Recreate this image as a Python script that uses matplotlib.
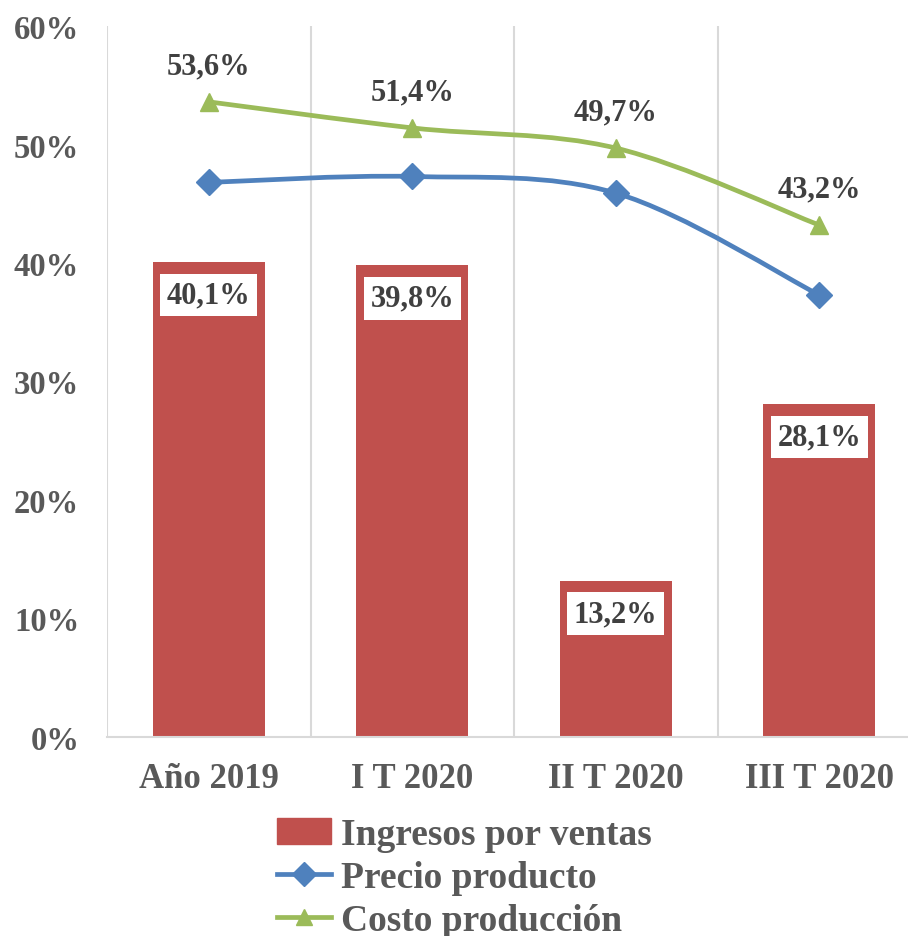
import matplotlib.pyplot as plt
from matplotlib.path import Path
from matplotlib.patches import PathPatch
from matplotlib.lines import Line2D
from matplotlib.ticker import FuncFormatter

categories = ["Año 2019", "I T 2020", "II T 2020", "III T 2020"]
ingresos = [40.1, 39.8, 13.2, 28.1]
precio = [46.8, 47.3, 45.9, 37.3]
costo = [53.6, 51.4, 49.7, 43.2]

RED = "#C0504D"
BLUE = "#4F81BD"
GREEN = "#9BBB59"
TICK_COLOR = "#595959"
LABEL_COLOR = "#404040"

plt.rcParams['font.family'] = ['Liberation Serif', 'DejaVu Serif']
plt.rcParams['font.weight'] = 'bold'


def smooth_path(xs, ys):
    # Excel-like smoothed line: cubic Bezier through the points
    pts = list(zip(xs, ys))
    verts = [pts[0]]
    codes = [Path.MOVETO]
    n = len(pts)
    for i in range(n - 1):
        p0 = pts[i - 1] if i > 0 else pts[i]
        p1 = pts[i]
        p2 = pts[i + 1]
        p3 = pts[i + 2] if i + 2 < n else pts[i + 1]
        c1 = (p1[0] + (p2[0] - p0[0]) / 6, p1[1] + (p2[1] - p0[1]) / 6)
        c2 = (p2[0] - (p3[0] - p1[0]) / 6, p2[1] - (p3[1] - p1[1]) / 6)
        verts += [c1, c2, p2]
        codes += [Path.CURVE4] * 3
    return Path(verts, codes)


fig = plt.figure(figsize=(9.08, 9.37), dpi=100)
ax = fig.add_axes([107 / 908, 1 - 738 / 937, 814 / 908, 711 / 937])

x = list(range(len(categories)))
bars = ax.bar(x, ingresos, width=0.55, color=RED, zorder=2)

for s, c, m in [(precio, BLUE, 'D'), (costo, GREEN, '^')]:
    ax.add_patch(PathPatch(smooth_path(x, s), facecolor='none', edgecolor=c,
                           lw=3.4, zorder=3, capstyle='round'))
    ax.plot(x, s, linestyle='none', marker=m, markersize=13, color=c, zorder=4)

for xi, v in zip(x, ingresos):
    ax.annotate(f"{v:.1f}%".replace('.', ','), (xi, v), xytext=(0, -33),
                textcoords='offset pixels', ha='center', va='center',
                fontsize=22, color=LABEL_COLOR, fontweight='bold', zorder=5,
                bbox=dict(boxstyle='square,pad=0.22', fc='white', ec='none'))

for xi, v in zip(x, costo):
    ax.annotate(f"{v:.1f}%".replace('.', ','), (xi, v), xytext=(0, 36),
                textcoords='offset pixels', ha='center', va='center',
                fontsize=22, color=LABEL_COLOR, fontweight='bold', zorder=5)

ax.set_xlim(-0.5, 3.5)
ax.set_ylim(0, 60)
ax.set_yticks(range(0, 61, 10))
ax.yaxis.set_major_formatter(FuncFormatter(lambda v, p: f"{v:.0f}%"))
ax.set_xticks(x)
ax.set_xticklabels(categories)
ax.set_xticks([-0.5, 0.5, 1.5, 2.5, 3.5], minor=True)
ax.grid(True, which='minor', axis='x', color='#D9D9D9', lw=1.5, zorder=0)
ax.tick_params(which='both', length=0)
ax.tick_params(axis='y', labelsize=23.5, labelcolor=TICK_COLOR, pad=20)
ax.tick_params(axis='x', labelsize=25, labelcolor=TICK_COLOR, pad=18)
for sp in ['top', 'right', 'left']:
    ax.spines[sp].set_visible(False)
ax.spines['bottom'].set_color('#D9D9D9')
ax.spines['bottom'].set_linewidth(1.5)

handles = [
    plt.Rectangle((0, 0), 1, 1, color=RED),
    Line2D([], [], color=BLUE, lw=3.4, marker='D', markersize=12),
    Line2D([], [], color=GREEN, lw=3.4, marker='^', markersize=12),
]
leg = fig.legend(handles, ["Ingresos por ventas", "Precio producto", "Costo producción"],
                 loc='upper left', bbox_to_anchor=(277 / 908, 1 - 818 / 937),
                 frameon=False, fontsize=27, handlelength=1.45, handletextpad=0.25,
                 labelspacing=0.22, borderaxespad=0, borderpad=0)
for t in leg.get_texts():
    t.set_color(TICK_COLOR)

fig.savefig("out.png", dpi=100)
